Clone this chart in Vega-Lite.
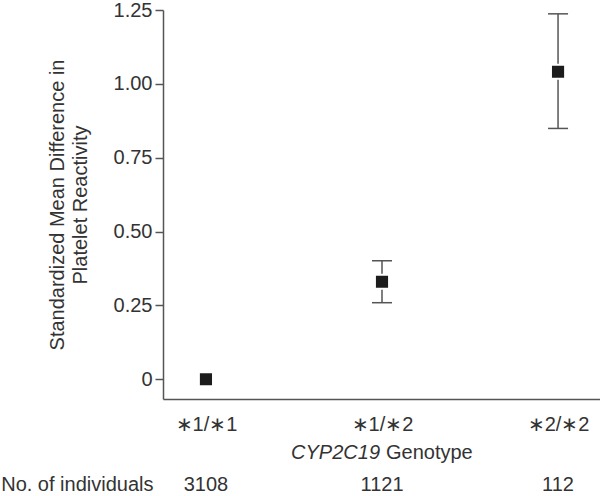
{
  "$schema": "https://vega.github.io/schema/vega-lite/v6.json",
  "padding": {"left": 0, "top": 0, "right": 0, "bottom": 0},
  "background": "white",
  "config": {
    "font": "Liberation Sans",
    "view": {"stroke": null},
    "axis": {"labelFont": "Liberation Sans", "titleFont": "Liberation Sans", "labelColor": "#333333", "titleColor": "#333333", "titleFontWeight": "normal", "grid": false}
  },
  "spacing": 8,
  "vconcat": [
    {
      "width": 438,
      "height": 389,
      "data": {"values": [
        {"genotype": "∗1/∗1", "smd": 0.0, "lo": null, "hi": null},
        {"genotype": "∗1/∗2", "smd": 0.330, "lo": 0.259, "hi": 0.401},
        {"genotype": "∗2/∗2", "smd": 1.041, "lo": 0.849, "hi": 1.237}
      ]},
      "encoding": {
        "x": {"field": "genotype", "type": "nominal", "sort": ["∗1/∗1", "∗1/∗2", "∗2/∗2"],
          "scale": {"type": "point", "padding": 0.244, "domain": ["∗1/∗1", "∗1/∗2", "∗2/∗2"]},
          "axis": {"title": null, "ticks": false, "labelAngle": 0, "labelFontSize": 20, "labelPadding": 15, "domainColor": "#555555", "domainWidth": 1.5}}
      },
      "layer": [
        {
          "transform": [{"filter": "datum.lo != null"}],
          "mark": {"type": "rule", "color": "#555555", "strokeWidth": 1.5},
          "encoding": {
            "y": {"field": "lo", "type": "quantitative"},
            "y2": {"field": "hi"}
          }
        },
        {
          "transform": [{"filter": "datum.lo != null"}],
          "mark": {"type": "tick", "color": "#555555", "thickness": 1.5, "size": 20, "opacity": 1},
          "encoding": {"y": {"field": "lo", "type": "quantitative"}}
        },
        {
          "transform": [{"filter": "datum.hi != null"}],
          "mark": {"type": "tick", "color": "#555555", "thickness": 1.5, "size": 20, "opacity": 1},
          "encoding": {"y": {"field": "hi", "type": "quantitative"}}
        },
        {
          "mark": {"type": "point", "shape": "square", "filled": true, "size": 200, "fill": "#1c1c1c", "opacity": 1, "stroke": "white", "strokeWidth": 2},
          "encoding": {
            "y": {"field": "smd", "type": "quantitative",
              "scale": {"domain": [-0.067, 1.25], "nice": false, "zero": false},
              "axis": {"title": ["Standardized Mean Difference in", "Platelet Reactivity"], "titleFontSize": 20, "titleLineHeight": 23, "titlePadding": 23,
                "values": [0, 0.25, 0.5, 0.75, 1, 1.25], "labelExpr": "datum.value == 0 ? '0' : format(datum.value, '.2f')",
                "labelFontSize": 20, "labelPadding": 3, "tickSize": 8, "tickColor": "#555555", "tickWidth": 1.5, "domainColor": "#555555", "domainWidth": 1.5}}
          }
        }
      ]
    },
    {
      "width": 438,
      "height": 45,
      "encoding": {
        "x": {"field": "genotype", "type": "nominal",
          "scale": {"type": "point", "padding": 0.244, "domain": ["∗1/∗1", "∗1/∗2", "∗2/∗2"]},
          "axis": null},
        "y": {"field": "row", "type": "nominal",
          "scale": {"type": "point", "padding": 0.2, "domain": ["title", "No. of individuals"]},
          "axis": {"title": null, "ticks": false, "domain": false, "labelFontSize": 20, "labelPadding": 10, "labelOffset": -1,
            "labelExpr": "datum.value == 'title' ? '' : datum.value"}}
      },
      "layer": [
        {
          "data": {"values": [{"genotype": "∗1/∗2", "row": "title", "label": "CYP2C19"}]},
          "mark": {"type": "text", "fontSize": 20, "fontStyle": "italic", "align": "right", "baseline": "middle", "dx": -2, "color": "#333333"},
          "encoding": {"text": {"field": "label"}}
        },
        {
          "data": {"values": [{"genotype": "∗1/∗2", "row": "title", "label": "Genotype"}]},
          "mark": {"type": "text", "fontSize": 20, "align": "left", "baseline": "middle", "dx": 4, "color": "#333333"},
          "encoding": {"text": {"field": "label"}}
        },
        {
          "data": {"values": [
            {"genotype": "∗1/∗1", "row": "No. of individuals", "n": 3108},
            {"genotype": "∗1/∗2", "row": "No. of individuals", "n": 1121},
            {"genotype": "∗2/∗2", "row": "No. of individuals", "n": 112}
          ]},
          "mark": {"type": "text", "fontSize": 20, "align": "center", "baseline": "middle", "dy": -1, "color": "#333333"},
          "encoding": {"text": {"field": "n", "type": "quantitative", "format": "d"}}
        }
      ]
    }
  ]
}
